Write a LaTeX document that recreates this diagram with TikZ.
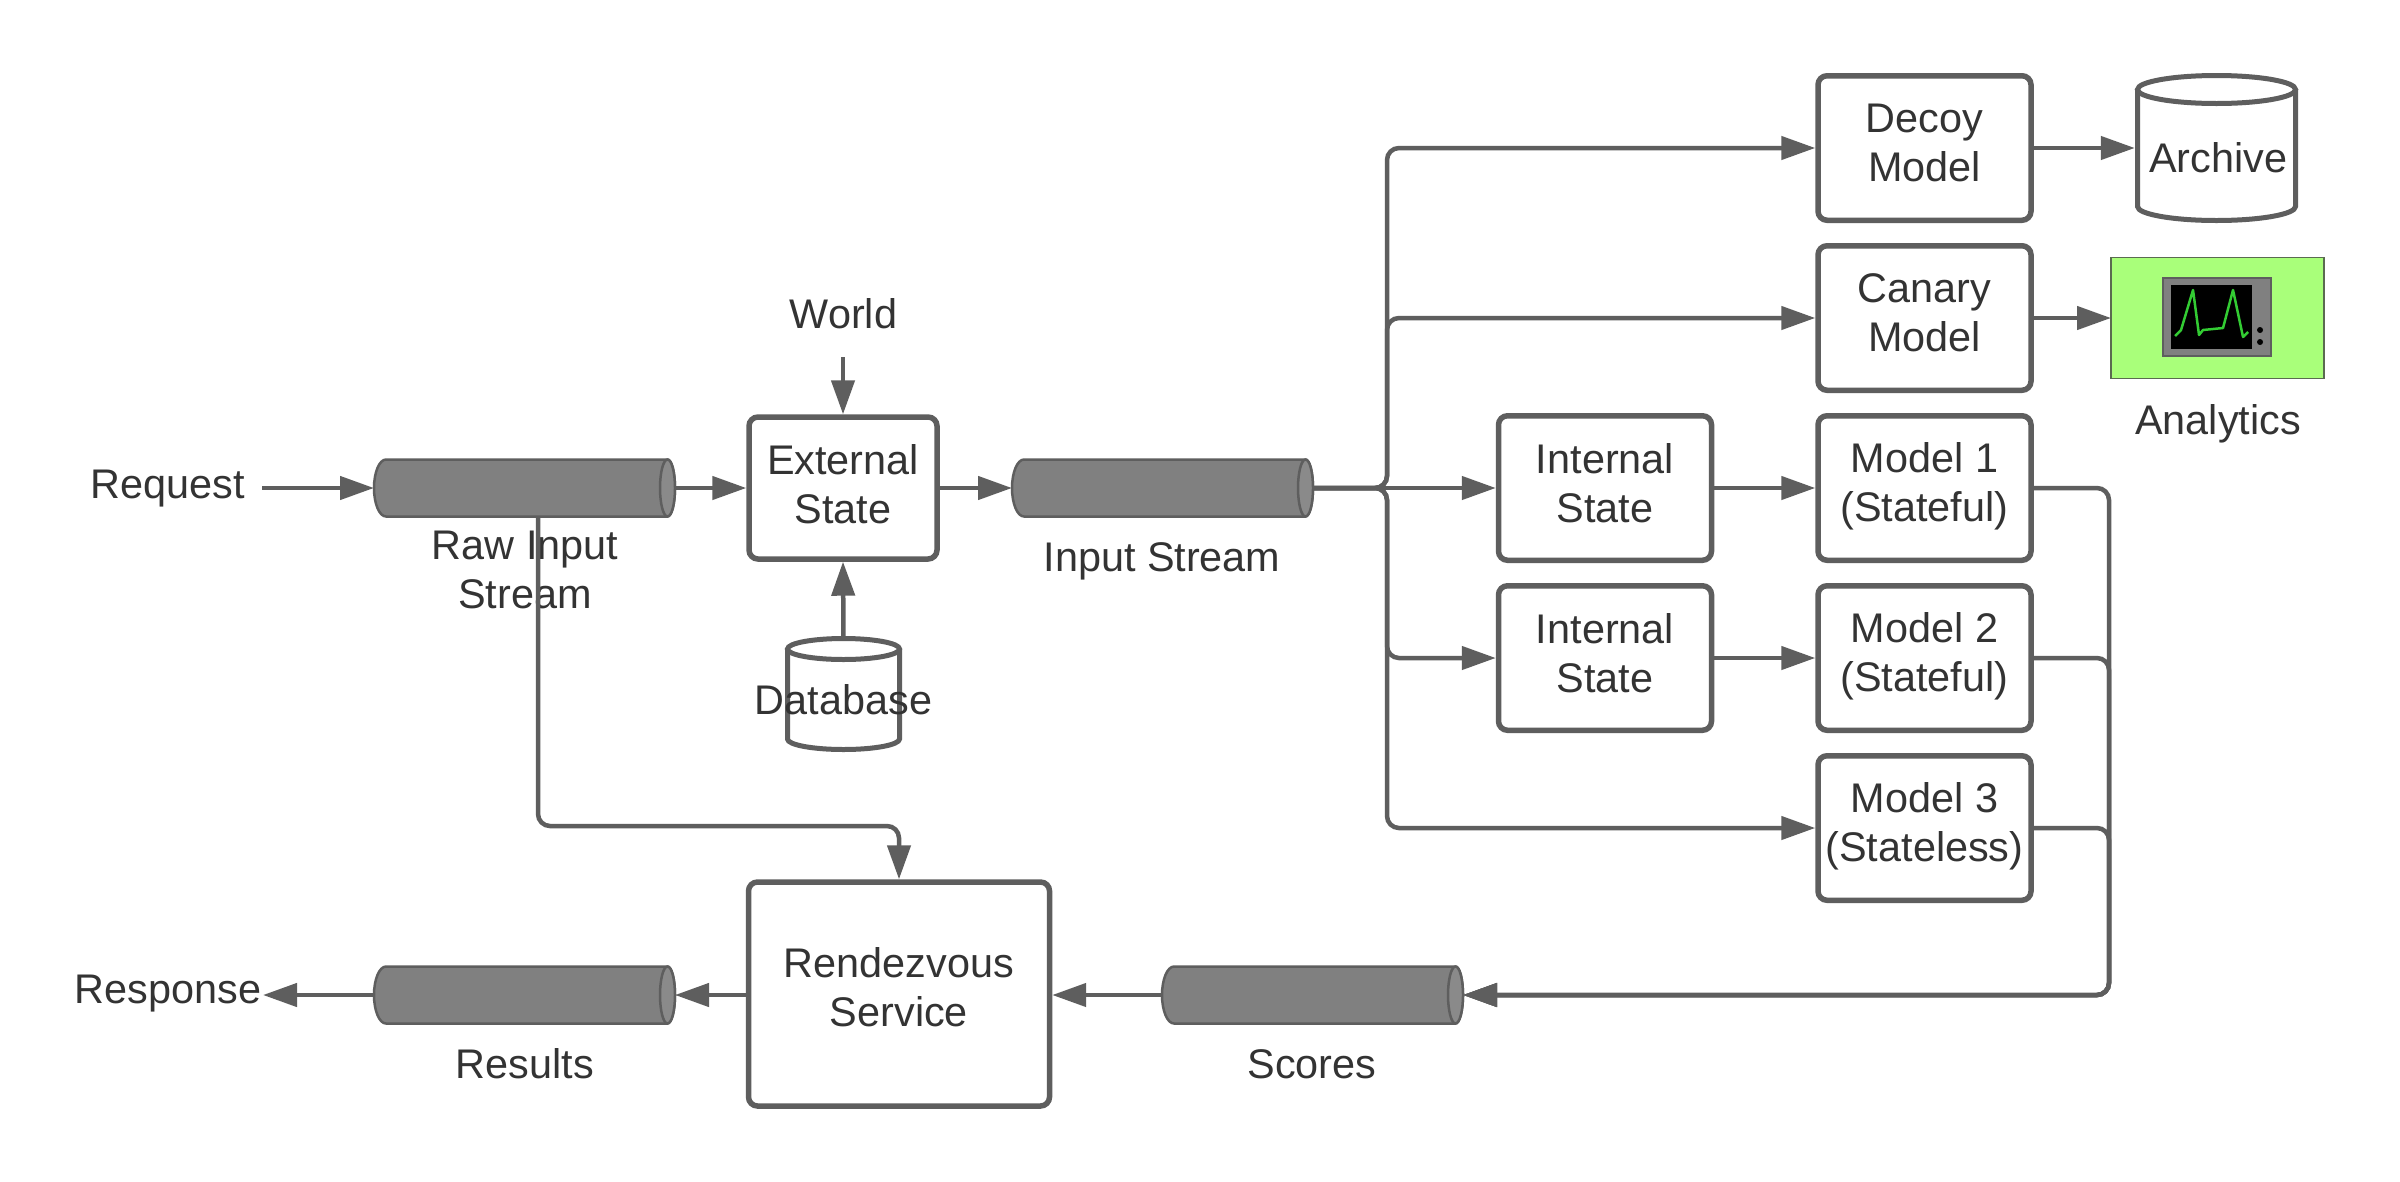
\documentclass[tikz,border=0pt]{standalone}
\usepackage{fontspec}
\setmainfont{Liberation Sans}
\usetikzlibrary{arrows.meta}
\definecolor{ln}{HTML}{5E5E5E}
\definecolor{tx}{HTML}{333333}
\definecolor{cyl}{HTML}{808080}
\definecolor{cylend}{HTML}{8A8A8A}
\definecolor{lime}{HTML}{A9FF7A}
\definecolor{limeln}{HTML}{5A6B50}
\definecolor{trace}{HTML}{33CC33}
\tikzset{
  txt/.style={text=tx,inner sep=0pt,align=center,font=\fontsize{41.4}{49}\selectfont},
  boxn/.style={draw=ln,line width=5.5pt,rounded corners=9pt,fill=white,inner sep=0pt,outer sep=0pt,minimum width=#1},
  boxn/.default=213pt,
  frame/.style={inner sep=0pt,outer sep=0pt},
  pipeline/.style={draw=ln,line width=2.5pt,fill=cyl},
  tankline/.style={draw=ln,line width=5pt,fill=white},
  conn/.style={draw=ln,line width=4.5pt,rounded corners=12pt,-{Triangle[length=34pt,width=23pt]}},
}
% box: width, height, name, centre, text, raise of the text
\newcommand\mybox[6]{%
  \node[boxn=#1,minimum height=#2] (#3) at (#4) {};
  \node[txt,yshift=#6] (#3t) at (#3) {#5};
}
\newcommand\mypipe[2]{%
  \node[frame,minimum width=301pt,minimum height=57pt] (#1) at (#2) {};
  \draw[pipeline] ([xshift=12pt]#1.north west) -- ([xshift=-7.5pt]#1.north east)
     arc[start angle=90,end angle=-90,x radius=7.5pt,y radius=28.5pt]
     -- ([xshift=12pt]#1.south west)
     arc[start angle=270,end angle=90,x radius=12pt,y radius=28.5pt] -- cycle;
  \draw[pipeline,fill=cylend] ([xshift=-7.5pt]#1.east) ellipse[x radius=7.5pt,y radius=28.5pt];
}
\newcommand\mytank[6]{% name, center, w, h, rx, ry
  \node[frame,minimum width=#3,minimum height=#4] (#1) at (#2) {};
  \draw[tankline] ([yshift=-#6]#1.north west) -- ([yshift=#6]#1.south west)
     arc[start angle=180,end angle=360,x radius=#5,y radius=#6]
     -- ([yshift=-#6]#1.north east);
  \draw[tankline] ([yshift=-#6]#1.north) ellipse[x radius=#5,y radius=#6];
}
\begin{document}
\begin{tikzpicture}[x=1pt,y=-1pt]
\useasboundingbox (0,0) rectangle (2400,1181);
\fill[white] (0,0) rectangle (2400,1181);
% boxes
\mybox{188pt}{142pt}{ext}{843,488}{External\\State}{4pt}
\mybox{301pt}{224pt}{rend}{899,994}{Rendezvous\\Service}{6.5pt}
\mybox{213pt}{144.5pt}{decoy}{1924.5,148}{Decoy\\Model}{5pt}
\mybox{213pt}{144.5pt}{canary}{1924.5,318}{Canary\\Model}{5pt}
\mybox{213pt}{144.5pt}{mone}{1924.5,488}{Model 1\\(Stateful)}{2pt}
\mybox{213pt}{144.5pt}{mtwo}{1924.5,658}{Model 2\\(Stateful)}{2pt}
\mybox{213pt}{144.5pt}{mthree}{1924.5,828}{Model 3\\(Stateless)}{2pt}
\mybox{213pt}{144.5pt}{isone}{1605,488}{Internal\\State}{4.5pt}
\mybox{213pt}{144.5pt}{istwo}{1605,658}{Internal\\State}{4.5pt}
% pipes
\mypipe{raw}{524.5,488}
\mypipe{input}{1162.5,488}
\mypipe{scores}{1312.5,995}
\mypipe{results}{524.5,995}
% tanks
\mytank{archive}{2216.5,148}{158pt}{145pt}{79pt}{14pt}
\mytank{db}{843.5,694}{112pt}{111pt}{56pt}{10.5pt}
% analytics
\node[draw=limeln,line width=1.5pt,fill=lime,minimum width=213pt,minimum height=121pt,inner sep=0pt,outer sep=0pt] (analytics) at (2217.5,318) {};
\fill[fill=cyl,draw=ln,line width=2pt] (2163,278) rectangle (2271,356);
\fill[black] (2171,285) rectangle (2252,349);
\draw[trace,line width=2.5pt,line join=round] (2175,336) -- (2181,330) -- (2193,290) -- (2199,335) -- (2203,330) -- (2223,328) -- (2233,290) -- (2243,337) -- (2248,332);
\fill[black] (2260,330) circle[radius=3pt] (2260,342) circle[radius=3pt];
% labels
\node[txt] (lreq) at (168,488.5) {Request};
\node[txt] (lresp) at (168,993.5) {Response};
\node[txt] (lworld) at (843.5,314) {World};
\node[txt] (lraw) at (525,570) {Raw Input\\Stream};
\node[txt] (linput) at (1162,561.5) {Input Stream};
\node[txt] (lresults) at (525,1064) {Results};
\node[txt] (lscores) at (1312,1064) {Scores};
\node[txt] (lanalytics) at (2218,424) {Analytics};
\node[txt] (larchive) at (2218,158) {Archive};
\node[txt] (ldb) at (843.5,700) {Database};
% free ends
\coordinate (reqout) at (262,488);
\coordinate (worldout) at (843,357);
\coordinate (bus) at (1387,488);
\coordinate (busr) at (2109,995);
\coordinate (rawout) at (538,516);
\coordinate (respin) at (263,995);
\coordinate (rawturn) at (538,826);
% connectors
\draw[conn] (reqout) -- (raw.west |- reqout);
\draw[conn] (raw.east) -- ([xshift=-2.7pt]ext.west);
\draw[conn] (ext.east) -- (input.west);
\draw[conn] (worldout) -- ([yshift=2.7pt]ext.north);
\draw[conn] (db.north) -- ([yshift=-2.7pt]ext.south);
\draw[conn] (input.east) -- (bus) -- (bus |- decoy.west) -- ([xshift=-2.7pt]decoy.west);
\draw[conn] (input.east) -- (bus) -- (bus |- canary.west) -- ([xshift=-2.7pt]canary.west);
\draw[conn] (input.east) -- ([xshift=-2.7pt]isone.west);
\draw[conn] (input.east) -- (bus) -- (bus |- istwo.west) -- ([xshift=-2.7pt]istwo.west);
\draw[conn] (input.east) -- (bus) -- (bus |- mthree.west) -- ([xshift=-2.7pt]mthree.west);
\draw[conn] (isone.east) -- ([xshift=-2.7pt]mone.west);
\draw[conn] (istwo.east) -- ([xshift=-2.7pt]mtwo.west);
\draw[conn] (decoy.east) -- ([xshift=-2.7pt]archive.west |- decoy.east);
\draw[conn] (canary.east) -- (analytics.west);
\draw[conn] (mone.east) -- (busr |- mone.east) -- (busr) -- (scores.east);
\draw[conn] (mtwo.east) -- (busr |- mtwo.east) -- (busr) -- (scores.east);
\draw[conn] (mthree.east) -- (busr |- mthree.east) -- (busr) -- (scores.east);
\draw[conn] (scores.west) -- ([xshift=2.7pt]rend.east |- scores.west);
\draw[conn] ([xshift=-2.7pt]rend.west |- results.east) -- (results.east);
\draw[conn] (results.west) -- (respin);
\draw[conn] (rawout) -- (rawturn) -- (rend.north |- rawturn) -- ([yshift=2.7pt]rend.north);
\end{tikzpicture}
\end{document}
